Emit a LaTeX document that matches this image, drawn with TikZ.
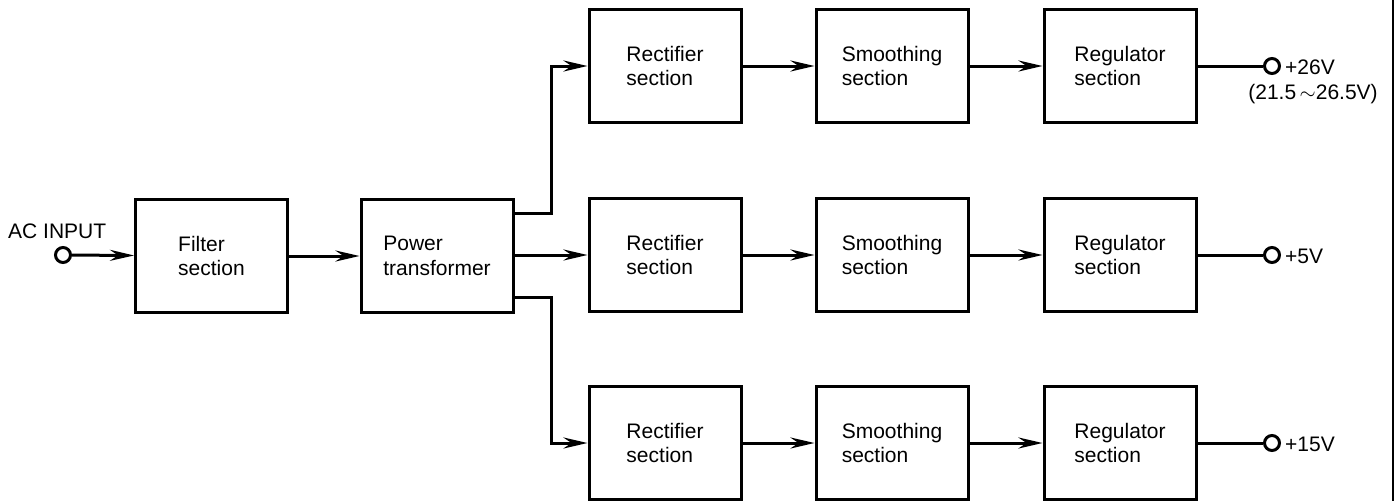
\documentclass[tikz,border=0pt]{standalone}
\usepackage{fontspec}
\setmainfont{Liberation Sans}
\usetikzlibrary{arrows.meta}
\begin{document}
\begin{tikzpicture}[x=1pt,y=-1pt,
  blk/.style={draw, line width=3pt, minimum width=152pt, minimum height=113pt, align=left, inner sep=0pt,
    font=\fontsize{21}{24.5}\selectfont},
  conn/.style={line width=3pt},
  arr/.style={conn, -{Stealth[length=24pt,width=11pt,inset=8pt]}},
  term/.style={circle, draw, line width=3pt, minimum size=15pt, inner sep=0pt},
  lbl/.style={font=\fontsize{21}{24}\selectfont, inner sep=0pt}]
\useasboundingbox (0,0) rectangle (1400,501);
% input
\node[lbl, anchor=west] (acl) at (8,231) {AC INPUT};
\node[term] (ain) at (63,255) {};
\node[blk] (flt) at (211.5,256) {Filter\\section};
\node[blk] (pt) at (437,256) {Power\\transformer};
\draw[arr] (ain) -- (flt);
\draw[arr] (flt) -- (pt);
% rows
\foreach \r/\y in {a/66, b/255, c/443}{
  \node[blk] (rec\r) at (665,\y) {Rectifier\\section};
  \node[blk] (smo\r) at (892,\y) {Smoothing\\section};
  \node[blk] (reg\r) at (1120,\y) {Regulator\\section};
  \node[term] (out\r) at (1272,\y) {};
  \draw[arr] (rec\r) -- (smo\r);
  \draw[arr] (smo\r) -- (reg\r);
  \draw[conn] (reg\r) -- (out\r);
}
\coordinate (pta) at (pt.east |- 0,213);
\coordinate (ptc) at (pt.east |- 0,297);
\draw[arr] (pta) -| (551,66) -- (reca.west);
\draw[arr] (pt.east |- recb.west) -- (recb.west);
\draw[arr] (ptc) -| (551,443) -- (recc.west);
% output labels
\node[lbl, anchor=west] (va) at (1285,67) {+26V};
\node[lbl, anchor=center] (vr) at (1313,94) {(21.5\,$\sim$26.5V)};
\node[lbl, anchor=west] (vb) at (1285,256) {+5V};
\node[lbl, anchor=west] (vc) at (1285,444) {+15V};
% page edge line
\draw[line width=1.2pt] (1393,0) -- (1393,501);
\end{tikzpicture}
\end{document}
